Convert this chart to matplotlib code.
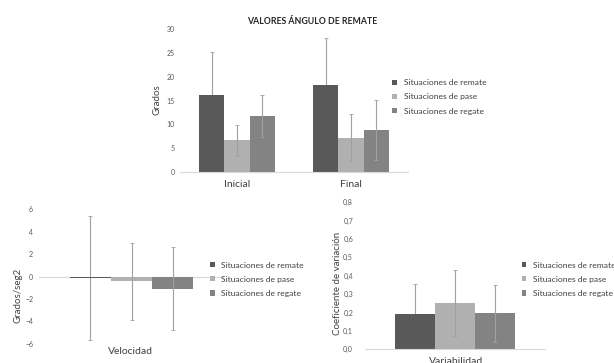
import numpy as np
import matplotlib
matplotlib.use('Agg')
import matplotlib.pyplot as plt
from matplotlib.ticker import FuncFormatter

plt.rcParams['font.family'] = ['Lato', 'DejaVu Sans']

W, H = 614, 363

series = ['Situaciones de remate', 'Situaciones de pase', 'Situaciones de regate']
colors = ['#595959', '#b0b0b0', '#838383']

# Valores ángulo de remate (grados)
angulo_categories = ['Inicial', 'Final']
angulo_remate = [16.1, 18.3]
angulo_pase = [6.6, 7.2]
angulo_regate = [11.7, 8.7]
angulo_remate_err = [9.2, 9.8]
angulo_pase_err = [3.3, 5.0]
angulo_regate_err = [4.4, 6.3]

# Velocidad (grados/seg2)
velocidad_categories = ['Velocidad']
velocidad_values = [-0.1, -0.43, -1.08]
velocidad_err = [5.5, 3.45, 3.66]

# Variabilidad (coeficiente de variación)
variabilidad_categories = ['Variabilidad']
variabilidad_values = [0.19, 0.25, 0.195]
variabilidad_err = [0.165, 0.18, 0.157]


def px_axes(fig, x0, x1, ytop, ybot):
    return fig.add_axes([x0 / W, (H - ybot) / H, (x1 - x0) / W, (ybot - ytop) / H])


def style_axes(ax, pad_px):
    for s in ['top', 'right', 'left']:
        ax.spines[s].set_visible(False)
    ax.spines['bottom'].set_color('#d9d9d9')
    ax.spines['bottom'].set_linewidth(0.8)
    ax.tick_params(axis='y', length=0, labelsize=5, labelcolor='#595959', pad=pad_px * 0.72)
    ax.tick_params(axis='x', length=0, labelsize=7.5, labelcolor='#404040', pad=6)
    ax.patch.set_alpha(0)


def draw_group(ax, cats, values_list, errs_list):
    x = np.arange(len(cats))
    bw = 2 / 9
    for i, (vals, errs) in enumerate(zip(values_list, errs_list)):
        pos = x + (i - 1) * bw
        ax.bar(pos, vals, bw, color=colors[i], label=series[i], zorder=2)
        # the dark series' error bars sit behind its bars in the original
        ax.errorbar(pos, vals, yerr=errs, fmt='none', ecolor='#a0a0a0', elinewidth=0.8,
                    capsize=1.2, capthick=0.6, zorder=1 if i == 0 else 3)
    ax.set_xticks(x)
    ax.set_xticklabels(cats)
    ax.set_xlim(-0.5, len(cats) - 0.5)


def add_legend(fig, ax, xpx, ypx):
    ax.legend(loc='center left', bbox_to_anchor=(xpx / W, (H - ypx) / H),
              bbox_transform=fig.transFigure, frameon=False, fontsize=6.1,
              handlelength=0.55, handleheight=0.55, handletextpad=0.75,
              labelspacing=0.85, borderpad=0, borderaxespad=0, labelcolor='#404040')


fig = plt.figure(figsize=(W / 100, H / 100), dpi=100)

# Top chart
ax1 = px_axes(fig, 180, 408, 29.3, 171.7)
draw_group(ax1, angulo_categories,
           [angulo_remate, angulo_pase, angulo_regate],
           [angulo_remate_err, angulo_pase_err, angulo_regate_err])
ax1.set_ylim(0, 30)
ax1.set_yticks(range(0, 31, 5))
style_axes(ax1, 5)
add_legend(fig, ax1, 392.5, 97)
fig.text(312 / W, (H - 21) / H, 'VALORES ÁNGULO DE REMATE', ha='center', va='center',
         fontsize=6.3, fontweight='bold', color='#262626')
fig.text(157 / W, (H - 100) / H, 'Grados', rotation=90, ha='center', va='center',
         fontsize=7, color='#404040')

# Bottom-left chart
ax2 = px_axes(fig, 39, 224, 209, 344)
draw_group(ax2, velocidad_categories,
           [[v] for v in velocidad_values], [[e] for e in velocidad_err])
ax2.set_ylim(-6, 6)
ax2.set_yticks(range(-6, 7, 2))
style_axes(ax2, 6)
ax2.spines['bottom'].set_visible(False)
ax2.axhline(0, color='#d9d9d9', lw=0.8, zorder=0)
ax2.set_xticklabels([])
fig.text(130 / W, (H - 351) / H, velocidad_categories[0], ha='center', va='center',
         fontsize=7.5, color='#404040')
add_legend(fig, ax2, 210, 279.3)
fig.text(18 / W, (H - 295) / H, 'Grados/seg2', rotation=90, ha='center', va='center',
         fontsize=7, color='#404040')

# Bottom-right chart
ax3 = px_axes(fig, 365, 545, 202.3, 349.3)
draw_group(ax3, variabilidad_categories,
           [[v] for v in variabilidad_values], [[e] for e in variabilidad_err])
ax3.set_ylim(0, 0.8)
ax3.set_yticks(np.arange(0, 0.81, 0.1))
ax3.yaxis.set_major_formatter(FuncFormatter(lambda v, p: f'{v:.1f}'.replace('.', ',')))
style_axes(ax3, 12)
ax3.set_xticklabels([])
fig.text(456 / W, (H - 361) / H, variabilidad_categories[0], ha='center', va='center',
         fontsize=7.5, color='#404040')
add_legend(fig, ax3, 521.5, 279.3)
fig.text(338 / W, (H - 283) / H, 'Coeficiente de variación', rotation=90, ha='center',
         va='center', fontsize=7, color='#404040')

fig.savefig('out.png', dpi=100)
